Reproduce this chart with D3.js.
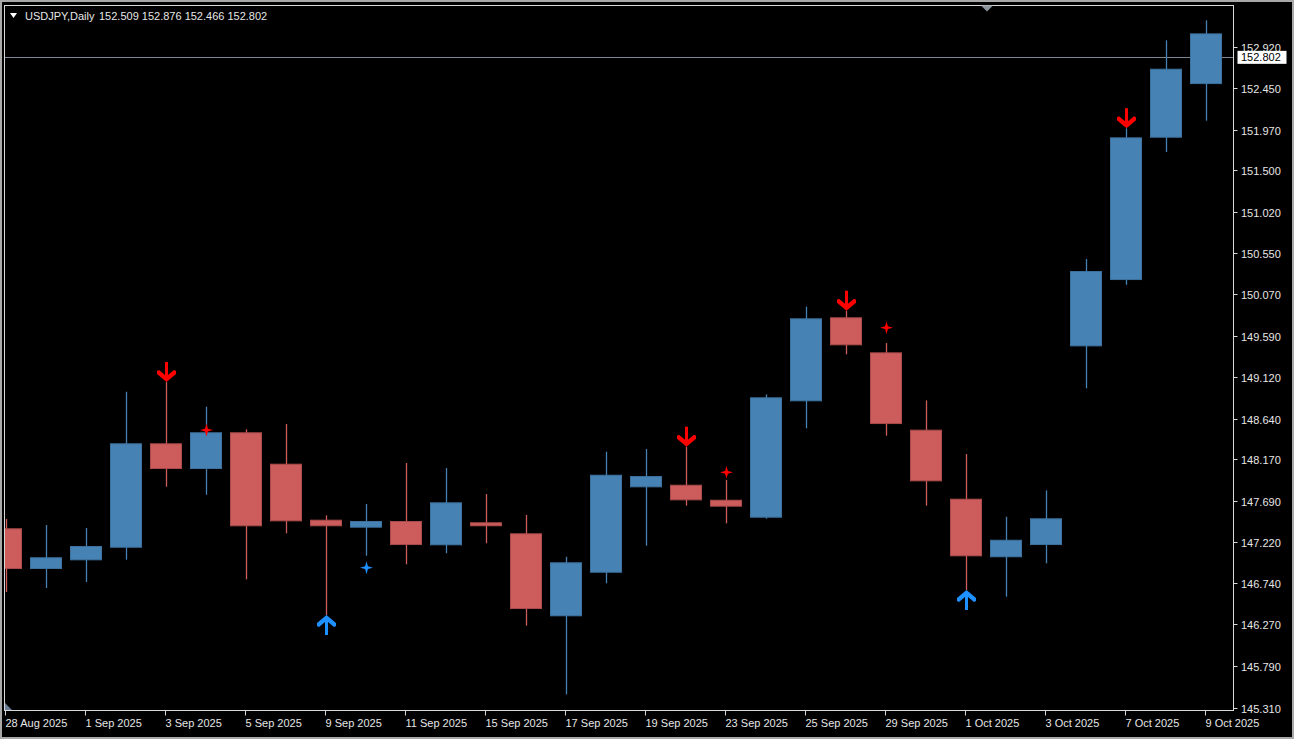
<!DOCTYPE html>
<html><head><meta charset="utf-8">
<script src="https://cdn.jsdelivr.net/npm/d3@7"></script>
<style>html,body{margin:0;padding:0;background:#000;overflow:hidden}</style>
</head><body>
<svg id="c" width="1294" height="739"></svg>
<script>
// ---- data ----
const symbolTitle = "USDJPY,Daily";
const headerValues = ["152.509", "152.876", "152.466", "152.802"];
const lastPrice = 152.802;
const dates = ["28 Aug 2025","29 Aug 2025","1 Sep 2025","2 Sep 2025","3 Sep 2025","4 Sep 2025","5 Sep 2025",
  "8 Sep 2025","9 Sep 2025","10 Sep 2025","11 Sep 2025","12 Sep 2025","15 Sep 2025","16 Sep 2025","17 Sep 2025",
  "18 Sep 2025","19 Sep 2025","22 Sep 2025","23 Sep 2025","24 Sep 2025","25 Sep 2025","26 Sep 2025","29 Sep 2025",
  "30 Sep 2025","1 Oct 2025","2 Oct 2025","3 Oct 2025","6 Oct 2025","7 Oct 2025","8 Oct 2025","9 Oct 2025"];
const open  = [147.376,146.907,147.007,147.152,148.355,148.059,148.482,148.120,147.475,147.383,147.460,147.180,147.445,147.318,146.362,146.864,147.848,147.878,147.705,147.498,148.839,149.807,149.403,148.512,147.717,147.042,147.183,149.472,150.236,151.876,152.494];
const high  = [147.483,147.414,147.379,148.949,149.061,148.777,148.516,148.577,147.525,147.656,148.128,148.070,147.771,147.529,147.048,148.258,148.289,148.316,147.932,148.919,149.929,149.883,149.510,148.850,148.232,147.509,147.813,150.478,151.984,152.998,153.228];
const low   = [146.642,146.688,146.757,147.014,147.855,147.763,146.788,147.318,146.377,147.060,146.961,147.088,147.203,146.254,145.463,146.742,147.175,147.636,147.433,147.486,148.528,149.380,148.443,147.636,146.665,146.588,146.972,148.989,150.182,151.711,152.072];
const close = [146.907,147.042,147.172,148.355,148.059,148.482,147.399,147.456,147.399,147.460,147.183,147.675,147.399,146.446,146.984,147.993,147.978,147.698,147.625,148.885,149.795,149.484,148.577,147.917,147.053,147.244,147.491,150.340,151.880,152.671,153.078];
const sellArrows = [4, 17, 21, 28];          // bar indices, arrow above high
const buyArrows  = [8, 24];                  // bar indices, arrow below low
const sellStarBars = [5, 18, 22];
const sellStarValues = [148.508, 148.021, 149.687];
const buyStarBars = [9];
const buyStarValues = [146.922];
const yTickLabels = ["152.920","152.450","151.970","151.500","151.020","150.550","150.070","149.590","149.120",
  "148.640","148.170","147.690","147.220","146.740","146.270","145.790","145.310"];
const xLabelBars = [0,2,4,6,8,10,12,14,16,18,20,22,24,26,28,30];

// ---- layout ----
const W = 1294, H = 739;
const plot = {l: 4.5, t: 5.5, r: 1233.5, b: 710.5};
const bullCol = "#4682b4", bullStroke = "#3d729e";
const bearCol = "#cd5c5c", bearStroke = "#a94b4b";
const font = "'Liberation Sans', Arial, sans-serif";

const svg = d3.select("#c");
svg.append("rect").attr("x",0).attr("y",0).attr("width",W).attr("height",H).attr("fill","#000");
// outer window frame
svg.append("rect").attr("x",1).attr("y",1).attr("width",W-2).attr("height",H-2)
  .attr("fill","none").attr("stroke","#a8a8a8").attr("stroke-width",2);

const x = d3.scaleLinear().domain([0, 30]).range([6, 1206]);
const y = d3.scaleLinear().domain([145.31, 152.92]).range([707.6, 47.1]);
const bodyW = 32;

svg.append("defs").append("clipPath").attr("id","pc").append("rect")
  .attr("x",plot.l+0.5).attr("y",plot.t+0.5).attr("width",plot.r-plot.l-1).attr("height",plot.b-plot.t-1);

const g = svg.append("g").attr("clip-path","url(#pc)");

// price line
g.append("line").attr("x1",plot.l).attr("x2",plot.r).attr("y1",Math.round(y(lastPrice))+0.5).attr("y2",Math.round(y(lastPrice))+0.5)
  .attr("stroke","#7a8794").attr("stroke-width",1);

const idx = d3.range(dates.length);
// wicks
g.selectAll("line.w").data(idx).join("line").attr("class","w")
  .attr("x1",i=>Math.round(x(i))+0.5).attr("x2",i=>Math.round(x(i))+0.5)
  .attr("y1",i=>y(high[i])).attr("y2",i=>y(low[i]))
  .attr("stroke",i=>close[i]>=open[i]?bullCol:bearCol).attr("stroke-width",1.3);
// bodies
g.selectAll("rect.b").data(idx).join("rect").attr("class","b")
  .attr("x",i=>x(i)-bodyW/2+0.5).attr("width",bodyW-1)
  .attr("y",i=>y(Math.max(open[i],close[i]))+0.5)
  .attr("height",i=>Math.max(1,Math.abs(y(open[i])-y(close[i]))-1))
  .attr("fill",i=>close[i]>=open[i]?bullCol:bearCol)
  .attr("stroke",i=>close[i]>=open[i]?bullStroke:bearStroke).attr("stroke-width",1);

// arrows (tip at origin, pointing down)
const arrowPath = "M0,0 L-9.5,-8 L-9.5,-11 L-7.5,-12 L-1.5,-7 L-1.5,-20 L1.5,-20 L1.5,-7 L7.5,-12 L9.5,-11 L9.5,-8 Z";
g.selectAll("path.sa").data(sellArrows).join("path").attr("class","sa")
  .attr("d",arrowPath).attr("fill","#ff0000")
  .attr("transform",i=>`translate(${x(i)+0.5},${y(high[i])})`);
g.selectAll("path.ba").data(buyArrows).join("path").attr("class","ba")
  .attr("d",arrowPath).attr("fill","#1e90ff")
  .attr("transform",i=>`translate(${x(i)+0.5},${y(low[i])}) rotate(180)`);

// stars
const starPath = "M0,-6.5 L1.4,-1.4 L6.5,0 L1.4,1.4 L0,6.5 L-1.4,1.4 L-6.5,0 L-1.4,-1.4 Z";
g.selectAll("path.ss").data(sellStarBars).join("path").attr("class","ss")
  .attr("d",starPath).attr("fill","#ff0000")
  .attr("transform",(b,k)=>`translate(${x(b)+0.5},${y(sellStarValues[k])})`);
g.selectAll("path.bs").data(buyStarBars).join("path").attr("class","bs")
  .attr("d",starPath).attr("fill","#1e90ff")
  .attr("transform",(b,k)=>`translate(${x(b)+0.5},${y(buyStarValues[k])})`);

// plot border
svg.append("rect").attr("x",plot.l).attr("y",plot.t).attr("width",plot.r-plot.l).attr("height",plot.b-plot.t)
  .attr("fill","none").attr("stroke","#d8d8d8").attr("stroke-width",1);

// shift markers
svg.append("path").attr("d","M981,5.5 L993,5.5 L987,11.5 Z").attr("fill","#8c949c");
svg.append("path").attr("d","M5,703 L5,710 L12,710 Z").attr("fill","#6b7f96");

// y axis
const yAxis = svg.append("g");
yTickLabels.forEach(lbl => {
  const yy = Math.round(y(+lbl)) + 0.5;
  yAxis.append("line").attr("x1",plot.r).attr("x2",plot.r+4).attr("y1",yy).attr("y2",yy).attr("stroke","#d8d8d8");
  yAxis.append("text").attr("x",1241).attr("y",yy+4).attr("fill","#e6e6e6")
    .attr("font-family",font).attr("font-size",11).text(lbl);
});
// last price tag
const py = y(lastPrice);
svg.append("rect").attr("x",1237.5).attr("y",py-6.5).attr("width",49).attr("height",13).attr("fill","#fff");
svg.append("text").attr("x",1241).attr("y",py+4).attr("fill","#000").attr("font-family",font).attr("font-size",11)
  .text(d3.format(".3f")(lastPrice));

// x axis
const xAxis = svg.append("g");
xLabelBars.forEach(b => {
  const xx = Math.round(x(b)) - 0.5;
  xAxis.append("line").attr("x1",xx).attr("x2",xx).attr("y1",plot.b).attr("y2",plot.b+5).attr("stroke","#d8d8d8");
  xAxis.append("text").attr("x",xx).attr("y",727).attr("fill","#e6e6e6")
    .attr("font-family",font).attr("font-size",11).text(dates[b]);
});

// header
svg.append("path").attr("d","M10,13 L17,13 L13.5,18 Z").attr("fill","#fff");
svg.append("text").attr("x",25).attr("y",20).attr("fill","#e6e6e6").attr("font-family",font).attr("font-size",11)
  .text(symbolTitle);
svg.append("text").attr("x",99).attr("y",20).attr("fill","#e6e6e6").attr("font-family",font).attr("font-size",11)
  .text(headerValues.join(" "));
</script>
</body></html>
